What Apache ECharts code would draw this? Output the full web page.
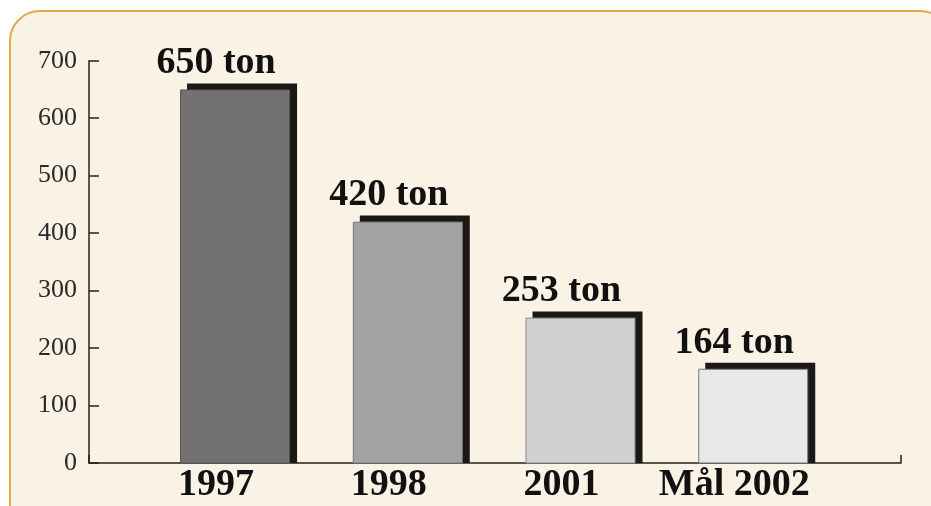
<!DOCTYPE html>
<html style="height: 100%">
<head>
	<meta charset="utf-8">
	<title>ton</title>
	<script src="https://cdn.jsdelivr.net/npm/echarts@6/dist/echarts.min.js"></script>
</head>
<body style="height: 100%; margin: 0; background: #fff">
	<div id="main" style="width: 931px; height: 506px"></div>
	<script type="text/javascript">
		// data
		var categories = ['1997', '1998', '2001', 'Mål 2002'];
		var values = [650, 420, 253, 164];
		var yTicks = [0, 100, 200, 300, 400, 500, 600, 700];

		var barColors = ['#737271', '#a2a2a1', '#d1d1d1', '#e8e8e8'];
		var edgeColors = ['#555', '#7c7c7c', '#8a8a8a', '#777'];
		var serif = "'Liberation Serif', 'DejaVu Serif', serif";

		var myChart = echarts.init(document.getElementById('main'));

		var option = {
			backgroundColor: '#fff',
			animation: false,
			graphic: [{
				type: 'rect',
				z: -10,
				silent: true,
				shape: {x: 10, y: 11, width: 940, height: 560, r: 30},
				style: {fill: '#f9f2e5', stroke: '#d8b046', lineWidth: 2}
			}],
			grid: [
				{left: 89, right: 30, top: 60.7, bottom: 43},
				{left: 129.7, right: 110.4, top: 60.7, bottom: 43}
			],
			xAxis: [
				{
					gridIndex: 0, type: 'value', min: 0, max: 1, interval: 1,
					axisLine: {show: true, lineStyle: {color: '#222', width: 1.5}},
					axisTick: {show: true, inside: true, length: 8, lineStyle: {color: '#222', width: 1.5}},
					axisLabel: {show: false},
					splitLine: {show: false}
				},
				{
					gridIndex: 1, type: 'category', data: categories,
					axisLine: {show: false},
					axisTick: {show: false},
					axisLabel: {
						margin: 3, color: '#111', fontSize: 38, fontWeight: 'bold',
						fontFamily: serif, interval: 0
					}
				}
			],
			yAxis: [
				{
					gridIndex: 0, type: 'value', min: yTicks[0], max: yTicks[yTicks.length - 1], interval: 100,
					axisLine: {show: true, lineStyle: {color: '#222', width: 1.5}},
					axisTick: {show: true, inside: true, length: 10, lineStyle: {color: '#222', width: 1.5}},
					axisLabel: {margin: 12, color: '#2a2a2a', fontSize: 26, fontFamily: serif},
					splitLine: {show: false}
				},
				{
					gridIndex: 1, type: 'value', min: 0, max: 700, show: false
				}
			],
			series: [{
				type: 'custom',
				xAxisIndex: 1,
				yAxisIndex: 1,
				data: values.map(function (v, i) { return [i, v]; }),
				renderItem: function (params, api) {
					var i = api.value(0);
					var top = api.coord([i, api.value(1)]);
					var base = api.coord([i, 0]);
					var w = 110;
					var left = top[0] + 19 - w / 2;
					var h = base[1] - top[1];
					return {
						type: 'group',
						children: [
							{
								type: 'rect',
								shape: {x: left + 7, y: top[1] - 6, width: w, height: h + 6},
								style: {fill: '#1c1815'}
							},
							{
								type: 'rect',
								shape: {x: left + 0.5, y: top[1] + 0.5, width: w - 1, height: h - 0.5},
								style: {fill: barColors[i], stroke: edgeColors[i], lineWidth: 1}
							},
							{
								type: 'text',
								x: top[0],
								y: top[1] - 7,
								style: {
									text: api.value(1) + ' ton',
									textAlign: 'center',
									textVerticalAlign: 'bottom',
									fill: '#111',
									font: 'bold 38px ' + serif
								}
							}
						]
					};
				}
			}]
		};

		myChart.setOption(option);
	</script>
</body>
</html>
